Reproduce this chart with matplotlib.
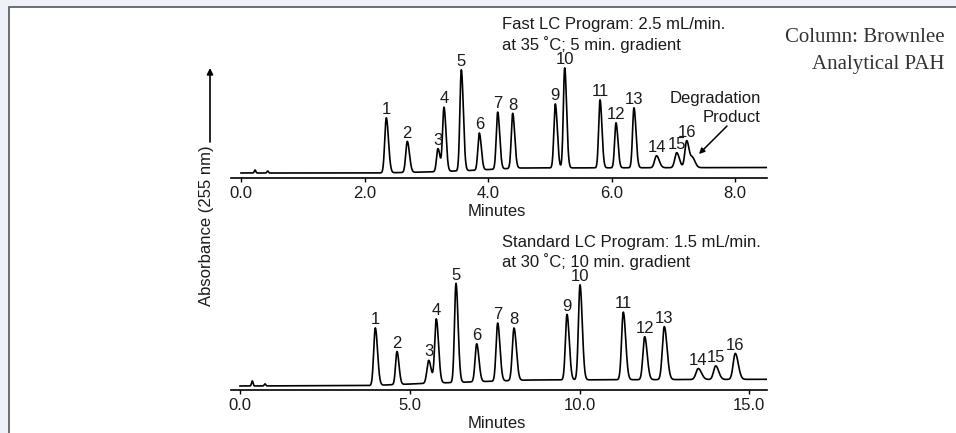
#!/usr/bin/env python3
"""
Fast vs standard LC chromatogram of the PAH mix (Brownlee Analytical PAH column)
"""

import numpy as np
import matplotlib.pyplot as plt
from matplotlib.patches import Rectangle

# --- figure size in pixels (dpi 100) ---
W, H = 956, 433

# ---------------- data ----------------
peak_labels = ['1', '2', '3', '4', '5', '6', '7', '8',
               '9', '10', '11', '12', '13', '14', '15', '16']

# fast LC program (minutes, peak height above baseline, sigma in minutes)
fast_times = [2.353, 2.693, 3.190, 3.287, 3.568, 3.859, 4.157, 4.400,
              5.090, 5.242, 5.814, 6.073, 6.364, 6.729, 7.056, 7.218]
fast_heights = [55, 31, 23, 64, 101, 37, 57, 55,
                64, 100, 68, 45, 60, 12, 15, 27]
fast_sigmas = [0.025, 0.025, 0.023, 0.023, 0.023, 0.023, 0.023, 0.023,
               0.023, 0.022, 0.022, 0.022, 0.023, 0.031, 0.031, 0.029]
fast_degr_time = 7.315
fast_degr_height = 9
fast_degr_sigma = 0.030
fast_bump_times = [0.227, 0.432]
fast_bump_heights = [3, 2]
fast_base_t = [0.0, 2.2, 3.0, 3.7, 4.5, 8.6]
fast_base_v = [5.0, 5.0, 6.0, 7.5, 10.0, 10.5]
fast_ticks = [0.0, 2.0, 4.0, 6.0, 8.0]

# standard LC program
std_times = [3.985, 4.624, 5.558, 5.782, 6.362, 6.972, 7.590, 8.071,
             9.632, 10.015, 11.290, 11.920, 12.498, 13.499, 14.012, 14.589]
std_heights = [57.5, 33, 23, 64, 99, 38, 58, 52.5,
               65.5, 95, 67.6, 43, 53, 11, 13.6, 26]
std_sigmas = [0.047, 0.042, 0.052, 0.047, 0.044, 0.047, 0.047, 0.050,
              0.047, 0.047, 0.050, 0.052, 0.057, 0.067, 0.062, 0.062]
std_bump_times = [0.362, 0.736]
std_bump_heights = [5, 2]
std_base_t = [0.0, 3.9, 5.4, 7.2, 8.5, 15.6]
std_base_v = [4.0, 4.5, 6.5, 8.5, 10.0, 10.7]
std_ticks = [0.0, 5.0, 10.0, 15.0]

SANS = ['Liberation Sans', 'DejaVu Sans']
SERIF = ['Liberation Serif', 'DejaVu Serif']
FS = 12
INK = '#1a1a1a'


def fx(x):
	return x / W


def fy(y):
	# pixel rows are counted from the top of the picture
	return 1 - y / H


def peak(t, center, height, sigma, tail=1.4):
	"""Gaussian peak with a slightly wider trailing side"""
	s = np.where(t < center, sigma, sigma * tail)
	return height * np.exp(-0.5 * ((t - center) / s) ** 2)


def build_trace(t, base_t, base_v, times, heights, sigmas, bumps, bump_h, bump_sigma):
	y = np.interp(t, base_t, base_v)
	for c, h, s in zip(times, heights, sigmas):
		y = y + peak(t, c, h, s)
	for c, h in zip(bumps, bump_h):
		y = y + peak(t, c, h, bump_sigma, tail=1.0)
	return y


def style_axis(ax, ticks):
	for side in ['left', 'right', 'top']:
		ax.spines[side].set_visible(False)
	ax.spines['bottom'].set_linewidth(1.2)
	ax.set_yticks([])
	ax.set_xticks(ticks)
	ax.set_xticklabels([f'{v:.1f}' for v in ticks], fontfamily=SANS, fontsize=FS, color=INK)
	ax.tick_params(axis='x', direction='out', length=3, width=1, pad=2.5)
	ax.set_facecolor('none')


def label_peaks(ax, times, trace_t, trace_y):
	for lab, c in zip(peak_labels, times):
		top = np.interp(c, trace_t, trace_y)
		ax.annotate(lab, (c, top), xytext=(0, 6.0), textcoords='offset points',
		            ha='center', va='center', fontsize=FS, fontfamily=SANS, color=INK,
		            annotation_clip=False)


def main():
	fig = plt.figure(figsize=(W / 100, H / 100), dpi=100)
	fig.patch.set_facecolor('#eef2f8')
	panel = Rectangle((fx(9), -0.1), 1.0, fy(7) + 0.1, transform=fig.transFigure,
	                  facecolor='white', edgecolor='#555555', linewidth=1.2, zorder=-10)
	fig.add_artist(panel)

	# ---- fast LC program (top) ----
	x0, ppm = 241, 61.75
	ax1 = fig.add_axes([fx(231), fy(178), (767 - 231) / W, 123 / H])
	ax1.set_xlim((231 - x0) / ppm, (767 - x0) / ppm)
	ax1.set_ylim(0, 123)
	t1 = np.linspace(0, (767 - x0) / ppm, 4000)
	y1 = build_trace(t1, fast_base_t, fast_base_v,
	                 fast_times + [fast_degr_time],
	                 fast_heights + [fast_degr_height],
	                 fast_sigmas + [fast_degr_sigma],
	                 fast_bump_times, fast_bump_heights, 0.012)
	ax1.plot(t1, y1, color='black', linewidth=1.2)
	style_axis(ax1, fast_ticks)
	label_peaks(ax1, fast_times, t1, y1)

	# ---- standard LC program (bottom) ----
	x0, ppm = 240, 33.95
	ax2 = fig.add_axes([fx(231), fy(390), (767 - 231) / W, 120 / H])
	ax2.set_xlim((231 - x0) / ppm, (767 - x0) / ppm)
	ax2.set_ylim(0, 120)
	t2 = np.linspace(0, (767 - x0) / ppm, 4000)
	y2 = build_trace(t2, std_base_t, std_base_v, std_times, std_heights, std_sigmas,
	                 std_bump_times, std_bump_heights, 0.022)
	ax2.plot(t2, y2, color='black', linewidth=1.2)
	style_axis(ax2, std_ticks)
	label_peaks(ax2, std_times, t2, y2)

	# ---- texts ----
	txt = dict(fontfamily=SANS, fontsize=FS, va='center', color=INK)
	fig.text(fx(497), fy(212), 'Minutes', ha='center', **txt)
	fig.text(fx(497), fy(424), 'Minutes', ha='center', **txt)
	fig.text(fx(502), fy(25), 'Fast LC Program: 2.5 mL/min.', ha='left', **txt)
	fig.text(fx(502), fy(45), 'at 35 ˚C; 5 min. gradient', ha='left', **txt)
	fig.text(fx(502), fy(243), 'Standard LC Program: 1.5 mL/min.', ha='left', **txt)
	fig.text(fx(502), fy(262), 'at 30 ˚C; 10 min. gradient', ha='left', **txt)
	fig.text(fx(761), fy(98), 'Degradation', ha='right', **txt)
	fig.text(fx(761), fy(117), 'Product', ha='right', **txt)
	fig.text(fx(207), fy(226), 'Absorbance (255 nm)', ha='center', rotation=90, **txt)

	fig.text(fx(945), fy(37), 'Column: Brownlee', ha='right', va='center',
	         fontfamily=SERIF, fontsize=15, color='#333333')
	fig.text(fx(945), fy(65), 'Analytical PAH', ha='right', va='center',
	         fontfamily=SERIF, fontsize=15, color='#333333')

	# ---- arrows ----
	ax1.annotate('', xy=(210, H - 68), xytext=(210, H - 142), xycoords='figure pixels',
	             textcoords='figure pixels', annotation_clip=False,
	             arrowprops=dict(arrowstyle='-|>', color='black', lw=1.2, mutation_scale=9,
	                             shrinkA=0, shrinkB=0))
	ax1.annotate('', xy=(699, H - 154), xytext=(727, H - 126), xycoords='figure pixels',
	             textcoords='figure pixels', annotation_clip=False,
	             arrowprops=dict(arrowstyle='-|>', color='black', lw=1.1, mutation_scale=8,
	                             shrinkA=0, shrinkB=0))

	fig.savefig('out.png', dpi=100, facecolor=fig.get_facecolor())


if __name__ == "__main__":
	main()
